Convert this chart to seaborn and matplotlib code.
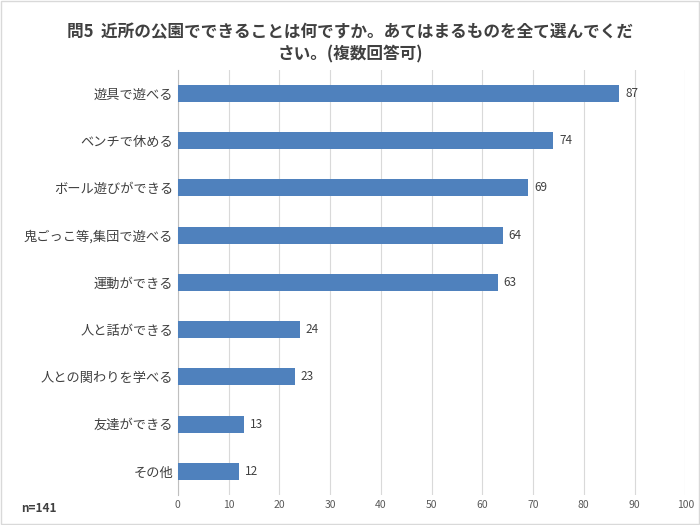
import matplotlib.pyplot as plt
import seaborn as sns
import pandas as pd

plt.rcParams["font.family"] = "Noto Sans CJK JP"

categories = ["遊具で遊べる", "ベンチで休める", "ボール遊びができる", "鬼ごっこ等,集団で遊べる",
              "運動ができる", "人と話ができる", "人との関わりを学べる", "友達ができる", "その他"]
values = [87, 74, 69, 64, 63, 24, 23, 13, 12]
xticks = [0, 10, 20, 30, 40, 50, 60, 70, 80, 90, 100]

df = pd.DataFrame({"cat": categories, "val": values})

fig = plt.figure(figsize=(7, 5.25), dpi=100)
ax = fig.add_axes([0.254, 0.057, 0.725, 0.81])
sns.barplot(data=df, y="cat", x="val", color="#4f81bd", saturation=1, width=0.36, ax=ax, zorder=3)

for i, v in enumerate(values):
    ax.text(v + 1.2, i, str(v), va="center", ha="left", fontsize=8.5, color="#404040")

ax.set_xlim(0, 100)
ax.set_xticks(xticks)
ax.tick_params(axis="x", labelsize=7.5, colors="#595959", length=0)
ax.tick_params(axis="y", labelsize=9.5, colors="#404040", length=0)
ax.set_xlabel("")
ax.set_ylabel("")
ax.xaxis.grid(True, color="#d9d9d9", linewidth=0.8, zorder=0)
for s in ["top", "right", "bottom"]:
    ax.spines[s].set_visible(False)
ax.spines["left"].set_color("#bfbfbf")

fig.text(0.5, 0.955, "問5  近所の公園でできることは何ですか。あてはまるものを全て選んでくだ\nさい。(複数回答可)",
         ha="center", va="top", fontsize=12, fontweight="bold", color="#404040", linespacing=1.3)
fig.text(0.03, 0.025, "n=141", fontsize=8.5, fontweight="bold", color="#404040")

fig.patches.append(plt.Rectangle((0.002, 0.002), 0.996, 0.996, transform=fig.transFigure,
                                 fill=False, edgecolor="#d9d9d9", linewidth=1))

fig.savefig("out.png", dpi=100)
